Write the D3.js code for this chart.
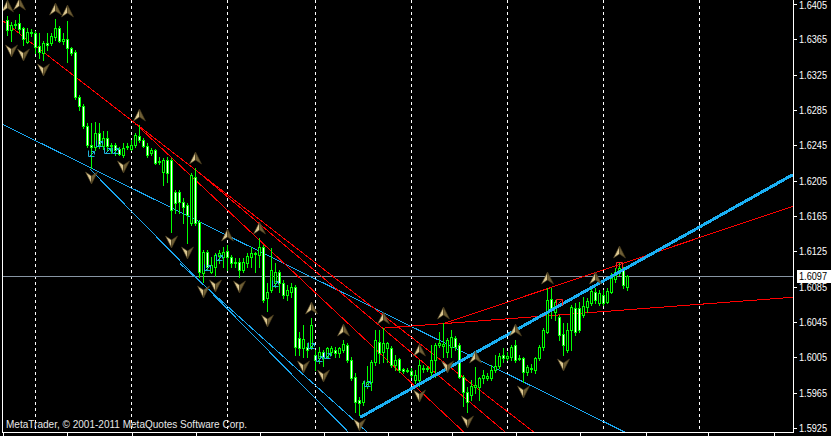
<!DOCTYPE html>
<html><head><meta charset="utf-8">
<script src="https://cdn.jsdelivr.net/npm/d3@7"></script>
<style>html,body{margin:0;padding:0;background:#000;overflow:hidden}svg{display:block}</style>
</head><body>
<svg id="chart" width="831" height="436"></svg>
<script>
// ---------------- DATA ----------------
const openP = [
1.6387,1.6376,1.6381,1.6384,1.6378,1.6362,1.6373,1.6372,1.6357,1.6350,
1.6361,1.6361,1.6368,1.6378,1.6363,1.6365,1.6355,1.6351,1.6300,1.6290,
1.6267,1.6245,1.6243,1.6259,1.6244,1.6253,1.6244,1.6245,1.6241,1.6234,
1.6243,1.6241,1.6245,1.6256,1.6251,1.6244,1.6236,1.6240,1.6226,1.6215,
1.6228,1.6228,1.6192,1.6192,1.6181,1.6178,1.6157,1.6209,1.6158,1.6101,
1.6124,1.6102,1.6107,1.6120,1.6119,1.6125,1.6119,1.6112,1.6113,1.6104,
1.6112,1.6119,1.6123,1.6121,1.6130,1.6072,1.6081,1.6089,1.6102,1.6089,
1.6076,1.6079,1.6085,1.6027,1.6016,1.6017,1.6017,1.6008,1.6004,1.6011,
1.6005,1.6011,1.6013,1.6010,1.6013,1.6019,1.6002,1.5983,1.5957,1.5955,
1.5973,1.5977,1.6000,1.6022,1.6011,1.6016,1.6016,1.5996,1.6003,1.5992,
1.5991,1.5990,1.5979,1.5979,1.5992,1.5992,1.5988,1.6002,1.6019,1.6018,
1.6011,1.6017,1.6027,1.6019,1.5983,1.5966,1.5962,1.5971,1.5971,1.5982,
1.5982,1.5982,1.5991,1.5995,1.6008,1.6004,1.6005,1.6019,1.6004,1.6004,
1.5988,1.5992,1.5991,1.6004,1.6017,1.6034,1.6071,1.6056,1.6051,1.6031,
1.6013,1.6036,1.6061,1.6061,1.6053,1.6062,1.6067,1.6079,1.6067,1.6076,
1.6068,1.6079,1.6094,1.6101,1.6104,1.6085];
const closeP = [
1.6376,1.6381,1.6382,1.6377,1.6365,1.6373,1.6372,1.6356,1.6351,1.6361,
1.6359,1.6369,1.6378,1.6363,1.6365,1.6355,1.6350,1.6300,1.6290,1.6267,
1.6245,1.6243,1.6259,1.6245,1.6253,1.6244,1.6245,1.6240,1.6235,1.6242,
1.6244,1.6245,1.6257,1.6251,1.6244,1.6234,1.6240,1.6225,1.6227,1.6228,
1.6214,1.6172,1.6180,1.6181,1.6175,1.6166,1.6211,1.6157,1.6102,1.6124,
1.6107,1.6110,1.6121,1.6123,1.6124,1.6119,1.6112,1.6113,1.6104,1.6113,
1.6120,1.6123,1.6122,1.6130,1.6070,1.6079,1.6104,1.6102,1.6089,1.6076,
1.6081,1.6085,1.6017,1.6016,1.6026,1.6013,1.6042,1.6002,1.6011,1.6005,
1.6016,1.6016,1.6010,1.6016,1.6020,1.6002,1.5982,1.5955,1.5953,1.5976,
1.5977,1.6000,1.6025,1.6010,1.6021,1.6021,1.5996,1.6002,1.5991,1.5990,
1.5990,1.5985,1.5985,1.5996,1.5993,1.5993,1.6002,1.6019,1.6021,1.6020,
1.6025,1.6028,1.6017,1.5983,1.5966,1.5955,1.5973,1.5974,1.5982,1.5985,
1.5984,1.5991,1.5995,1.6007,1.6004,1.6007,1.6017,1.6002,1.6003,1.5988,
1.5994,1.5993,1.6004,1.6017,1.6036,1.6070,1.6061,1.6068,1.6030,1.6019,
1.6036,1.6062,1.6034,1.6036,1.6063,1.6069,1.6080,1.6070,1.6078,1.6067,
1.6080,1.6095,1.6102,1.6106,1.6087,1.6097];
const highP = [
1.6391,1.6385,1.6387,1.6394,1.6379,1.6378,1.6377,1.6374,1.6372,1.6363,
1.6372,1.6372,1.6388,1.6380,1.6372,1.6386,1.6356,1.6353,1.6302,1.6292,
1.6270,1.6270,1.6271,1.6270,1.6261,1.6261,1.6248,1.6248,1.6243,1.6248,
1.6248,1.6251,1.6259,1.6268,1.6253,1.6248,1.6242,1.6241,1.6232,1.6231,
1.6232,1.6231,1.6194,1.6194,1.6185,1.6180,1.6214,1.6219,1.6160,1.6127,
1.6127,1.6119,1.6123,1.6127,1.6130,1.6132,1.6121,1.6117,1.6117,1.6117,
1.6123,1.6130,1.6124,1.6140,1.6132,1.6089,1.6129,1.6112,1.6104,1.6093,
1.6087,1.6089,1.6087,1.6034,1.6042,1.6021,1.6050,1.6013,1.6017,1.6013,
1.6017,1.6018,1.6017,1.6017,1.6025,1.6021,1.6005,1.5987,1.5960,1.5978,
1.5995,1.6002,1.6036,1.6036,1.6038,1.6022,1.6018,1.6008,1.6004,1.5993,
1.5993,1.5993,1.5991,1.6002,1.5996,1.5995,1.6019,1.6021,1.6034,1.6044,
1.6027,1.6036,1.6029,1.6021,1.5985,1.5971,1.5979,1.5994,1.5983,1.5991,
1.5987,1.5996,1.6008,1.6010,1.6016,1.6011,1.6019,1.6025,1.6008,1.6005,
1.5996,1.5998,1.6005,1.6019,1.6038,1.6084,1.6084,1.6070,1.6053,1.6044,
1.6044,1.6064,1.6067,1.6068,1.6073,1.6072,1.6084,1.6084,1.6081,1.6081,
1.6084,1.6101,1.6106,1.6113,1.6107,1.6098];
const lowP = [
1.6370,1.6363,1.6378,1.6372,1.6359,1.6361,1.6369,1.6350,1.6344,1.6342,
1.6353,1.6359,1.6364,1.6362,1.6360,1.6339,1.6347,1.6297,1.6285,1.6265,
1.6243,1.6219,1.6240,1.6242,1.6241,1.6240,1.6236,1.6234,1.6234,1.6232,
1.6241,1.6240,1.6243,1.6249,1.6243,1.6232,1.6234,1.6224,1.6224,1.6200,
1.6204,1.6147,1.6168,1.6168,1.6157,1.6134,1.6155,1.6155,1.6096,1.6090,
1.6104,1.6101,1.6097,1.6112,1.6107,1.6104,1.6107,1.6107,1.6096,1.6102,
1.6107,1.6107,1.6102,1.6107,1.6068,1.6058,1.6079,1.6085,1.6079,1.6072,
1.6070,1.6073,1.6008,1.6008,1.6005,1.6005,1.6015,1.5991,1.5999,1.5995,
1.6004,1.6008,1.6005,1.6005,1.6011,1.6000,1.5979,1.5943,1.5940,1.5951,
1.5970,1.5968,1.5996,1.5999,1.6000,1.6000,1.5994,1.5991,1.5988,1.5987,
1.5988,1.5983,1.5976,1.5973,1.5988,1.5990,1.5985,1.5983,1.6017,1.6005,
1.6005,1.6005,1.6013,1.5982,1.5950,1.5943,1.5957,1.5965,1.5957,1.5976,
1.5979,1.5979,1.5988,1.5993,1.6000,1.6002,1.6002,1.6000,1.6002,1.5977,
1.5985,1.5988,1.5987,1.6002,1.6013,1.6033,1.6050,1.6047,1.6025,1.6008,
1.6011,1.6013,1.6030,1.6034,1.6051,1.6056,1.6064,1.6067,1.6064,1.6064,
1.6067,1.6078,1.6090,1.6098,1.6084,1.6081];

const priceTicks = [1.6405,1.6365,1.6325,1.6285,1.6245,1.6205,1.6165,1.6125,1.6085,1.6045,1.6005,1.5965,1.5925];
const priceLabels = ["1.6405","1.6365","1.6325","1.6285","1.6245","1.6205","1.6165","1.6125","1.6085","1.6045","1.6005","1.5965","1.5925"];
const bidPrice = 1.6097;
const bidLabel = "1.6097";
const daySeparators = [7,31,55,77,101,125,149,173];
const timeTicks = [-1,15,31.2,47.2,63.2,79.4,95.4,111.4,127.4,143.4,159.7,175.4,191.7];

const fractalUp = [0,3,12,15,33,47,55,63,76,84,94,103,109,117,127,135,147,153];
const fractalDown = [1,4,9,21,29,41,45,49,52,58,65,74,79,88,103,110,115,129,139];

const tradeMarksIdx = [21,23,25,27,50,53,67,76,78,80,90];
const tradeMarksPrice = [1.6236,1.6248,1.6240,1.6240,1.6107,1.6119,1.6089,1.6019,1.6004,1.6008,1.5976];
const redMarksIdx = [138,153];
const redMarksPrice = [1.6068,1.6110];

// trend lines: two anchor points [bar index, price]
const blueThick = [[88.2,1.5937],[150,1.6094]];
const blueA = [[53.2,1.6147],[90.7,1.6063]];
const blueB1 = [[20.7,1.6218],[73.2,1.5976]];
const blueB2 = [[43.2,1.6111],[83.2,1.5948]];
const red1 = [[27.7,1.6285],[90.7,1.6064]];
const red2 = [[31.9,1.6270],[90.7,1.6020]];
const red3 = [[46.9,1.6218],[90.7,1.6050]];
const redUp1 = [[93.9,1.6038],[196.4,1.6073]];
const redUp2 = [[108.9,1.6043],[196.4,1.6176]];

const copyright = "MetaTrader, © 2001-2011 MetaQuotes Software Corp.";

// ---------------- DRAW ----------------
const W = 831, H = 436;
const plotL = 2, plotR = 793, plotB = 432;
const svg = d3.select("#chart");
svg.append("rect").attr("width",W).attr("height",H).attr("fill","#000");

const x = d3.scaleLinear().domain([0,1]).range([7.3,11.3]);
const y = d3.scaleLinear().domain([1.5925,1.6405]).range([428,4]);
const px = i => Math.floor(x(i));
const py = p => Math.round(y(p));

svg.append("defs").append("clipPath").attr("id","plotclip")
  .append("rect").attr("x",plotL).attr("y",0).attr("width",plotR-plotL).attr("height",plotB);

const plot = svg.append("g").attr("clip-path","url(#plotclip)");

// day separators
plot.selectAll("line.sep").data(daySeparators).enter().append("line")
  .attr("x1",d=>px(d)+0.5).attr("x2",d=>px(d)+0.5)
  .attr("y1",0).attr("y2",plotB)
  .attr("stroke","#fff").attr("stroke-width",1).attr("stroke-dasharray","3,3")
  .attr("shape-rendering","crispEdges");

// bid line
plot.append("line").attr("x1",plotL).attr("x2",plotR)
  .attr("y1",py(bidPrice)+0.5).attr("y2",py(bidPrice)+0.5)
  .attr("stroke","#8795a3").attr("stroke-width",1).attr("shape-rendering","crispEdges");

// trend lines
const xl = x.invert(plotL), xr = x.invert(plotR);
function seg(pts, mode){
  const [a,b] = pts;
  const slope = (b[1]-a[1])/(b[0]-a[0]);
  const f = i => a[1] + slope*(i-a[0]);
  const i0 = mode==="full" ? xl : a[0];
  const i1 = xr;
  return [[x(i0),y(f(i0))],[x(i1),y(f(i1))]];
}
const trend = [
  {pts:blueA, mode:"full", c:"#1aa6ee", w:1},
  {pts:blueB1, mode:"ray", c:"#1aa6ee", w:1},
  {pts:blueB2, mode:"ray", c:"#1aa6ee", w:1},
  {pts:red1, mode:"full", c:"#ff0000", w:1},
  {pts:red2, mode:"ray", c:"#ff0000", w:1},
  {pts:red3, mode:"ray", c:"#ff0000", w:1},
  {pts:redUp1, mode:"ray", c:"#ff0000", w:1},
  {pts:redUp2, mode:"ray", c:"#ff0000", w:1}
];
const lineGen = d3.line();
plot.selectAll("path.trend").data(trend).enter().append("path")
  .attr("d",d=>lineGen(seg(d.pts,d.mode)))
  .attr("fill","none").attr("stroke",d=>d.c).attr("stroke-width",d=>d.w)
  .attr("shape-rendering","crispEdges");

// candles
const idx = d3.range(openP.length);
const cg = plot.append("g").attr("shape-rendering","crispEdges");
idx.forEach(i=>{
  const xc = px(i);
  const yh = py(highP[i]), yl = py(lowP[i]);
  const yo = py(openP[i]), yc = py(closeP[i]);
  const top = Math.min(yo,yc), bot = Math.max(yo,yc);
  cg.append("rect").attr("x",xc).attr("y",yh).attr("width",1).attr("height",Math.max(1,yl-yh+1)).attr("fill","#00ff00");
  cg.append("rect").attr("x",xc-1).attr("y",top).attr("width",3).attr("height",Math.max(1,bot-top+1)).attr("fill","#00ff00");
  if (bot-top>=2){
    cg.append("rect").attr("x",xc).attr("y",top+1).attr("width",1).attr("height",bot-top-1)
      .attr("fill", closeP[i] < openP[i] ? "#ffffff" : "#000000");
  }
});

// thick blue line on top of candles
plot.append("path").attr("d",lineGen(seg(blueThick,"ray")))
  .attr("fill","none").attr("stroke","#1ab0f4").attr("stroke-width",3)
  .attr("shape-rendering","crispEdges");

// fractal arrows
function arrow(g, up){
  const s = up ? 1 : -1;
  g.append("path").attr("d",`M0,${-6*s} L${-6},${6*s} L0,${2*s} Z`).attr("fill","#dcc892").attr("stroke","#4a3d1c").attr("stroke-width",0.6);
  g.append("path").attr("d",`M0,${-6*s} L6,${6*s} L0,${2*s} Z`).attr("fill","#6f5f36").attr("stroke","#4a3d1c").attr("stroke-width",0.6);
}
fractalUp.forEach(i=>{
  const g = plot.append("g").attr("transform",`translate(${px(i)+0.5},${py(highP[i])-10})`);
  arrow(g,true);
});
fractalDown.forEach(i=>{
  const g = plot.append("g").attr("transform",`translate(${px(i)+0.5},${py(lowP[i])+10})`);
  arrow(g,false);
});

// small trade markers
tradeMarksIdx.forEach((i,k)=>{
  const g = plot.append("g").attr("transform",`translate(${px(i)+0.5},${py(tradeMarksPrice[k])+0.5})`);
  g.append("path").attr("d","M-2,3 L3,-2 M0,-2 L3,-2 L3,1 M-3,-3 L-3,3 L3,3").attr("fill","none").attr("stroke","#1fb0d8").attr("stroke-width",1);
});
redMarksIdx.forEach((i,k)=>{
  const g = plot.append("g").attr("transform",`translate(${px(i)+0.5},${py(redMarksPrice[k])+0.5})`);
  g.append("path").attr("d","M-3,3 L-3,-3 L3,-3 L3,3 M-1,1 L2,-2").attr("fill","none").attr("stroke","#ff2020").attr("stroke-width",1);
});

// frame
const fr = svg.append("g").attr("shape-rendering","crispEdges");
fr.append("line").attr("x1",plotL+0.5).attr("x2",plotL+0.5).attr("y1",0).attr("y2",plotB+1).attr("stroke","#fff");
fr.append("line").attr("x1",plotR+0.5).attr("x2",plotR+0.5).attr("y1",0).attr("y2",plotB+1).attr("stroke","#fff");
fr.append("line").attr("x1",plotL).attr("x2",plotR+1).attr("y1",plotB+0.5).attr("y2",plotB+0.5).attr("stroke","#fff");

// right price axis
priceTicks.forEach((p,k)=>{
  const yy = py(p);
  fr.append("line").attr("x1",plotR+1).attr("x2",plotR+4).attr("y1",yy+0.5).attr("y2",yy+0.5).attr("stroke","#fff");
  svg.append("text").attr("x",799).attr("y",Math.max(yy+4,9)).attr("fill","#fff")
    .attr("font-family","Liberation Sans, Arial, sans-serif").attr("font-size","10.5px")
    .attr("textLength",28).attr("lengthAdjust","spacingAndGlyphs").text(priceLabels[k]);
});
// bid label
svg.append("rect").attr("x",797).attr("y",py(bidPrice)-6).attr("width",34).attr("height",13).attr("fill","#fff");
svg.append("text").attr("x",799).attr("y",py(bidPrice)+4).attr("fill","#000")
  .attr("font-family","Liberation Sans, Arial, sans-serif").attr("font-size","10.5px")
  .attr("textLength",28).attr("lengthAdjust","spacingAndGlyphs").text(bidLabel);

// bottom time ticks
timeTicks.forEach(t=>{
  fr.append("line").attr("x1",px(t)+0.5).attr("x2",px(t)+0.5).attr("y1",plotB+1).attr("y2",H).attr("stroke","#fff");
});

// copyright
svg.append("text").attr("x",6).attr("y",428).attr("fill","#e8e8e8")
  .attr("font-family","Liberation Sans, Arial, sans-serif").attr("font-size","11px")
  .attr("textLength",241).attr("lengthAdjust","spacingAndGlyphs").text(copyright);
</script>
</body></html>
